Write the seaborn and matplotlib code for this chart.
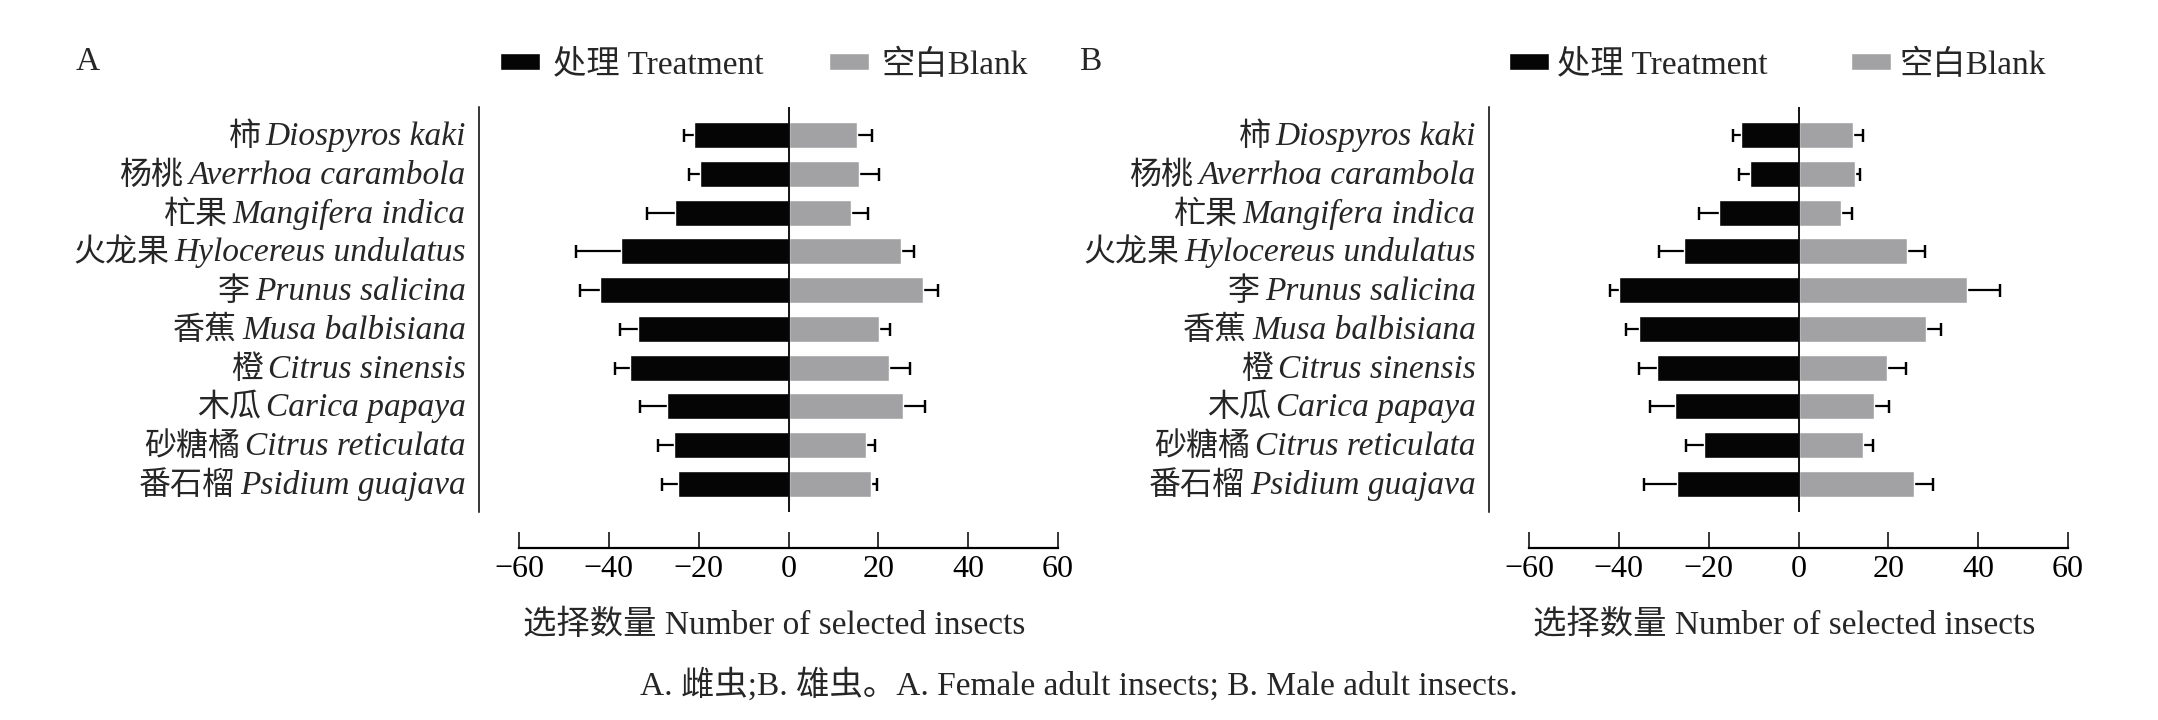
import matplotlib
matplotlib.use('Agg')
import matplotlib.pyplot as plt
import matplotlib.transforms as mtransforms
import numpy as np
import pandas as pd
import seaborn as sns

# species labels (Chinese + Latin)
cn_names = ['柿', '杨桃', '杧果', '火龙果', '李', '香蕉', '橙', '木瓜', '砂糖橘', '番石榴']
latin_names = ['Diospyros kaki', 'Averrhoa carambola', 'Mangifera indica',
               'Hylocereus undulatus', 'Prunus salicina', 'Musa balbisiana',
               'Citrus sinensis', 'Carica papaya', 'Citrus reticulata', 'Psidium guajava']

groups = ['处理 Treatment', '空白Blank']

# A: female adults
a_treat = [21.0, 19.6, 25.3, 37.3, 42.0, 33.6, 35.3, 27.0, 25.4, 24.5]
a_treat_err = [2.3, 2.6, 6.3, 10.1, 4.5, 4.0, 3.3, 6.1, 3.7, 3.7]
a_blank = [15.3, 15.8, 14.0, 25.0, 29.9, 20.2, 22.4, 25.4, 17.2, 18.4]
a_blank_err = [3.4, 4.3, 3.8, 2.9, 3.4, 2.5, 4.6, 4.9, 2.1, 1.2]

# B: male adults
b_treat = [12.7, 10.7, 17.6, 25.5, 40.0, 35.4, 31.6, 27.6, 21.1, 27.0]
b_treat_err = [1.9, 2.5, 4.6, 5.6, 1.9, 3.1, 3.9, 5.5, 4.0, 7.3]
b_blank = [12.1, 12.6, 9.5, 24.1, 37.6, 28.4, 19.6, 16.9, 14.4, 25.7]
b_blank_err = [2.3, 1.2, 2.3, 4.1, 7.2, 3.3, 4.3, 3.3, 2.1, 4.3]

xticks = [-60, -40, -20, 0, 20, 40, 60]

sns.set_theme(style='ticks')
plt.rcParams['font.family'] = ['Liberation Serif', 'Noto Sans CJK SC']
plt.rcParams['axes.unicode_minus'] = True

DPI = 100
FS = 24
fig = plt.figure(figsize=(21.58, 7.2), dpi=DPI)
ax_a = fig.add_axes([519 / 2158, 208 / 720, 539 / 2158, 405 / 720])
ax_b = fig.add_axes([1529 / 2158, 208 / 720, 539 / 2158, 405 / 720])


def px(v):
    # pixels -> points
    return v * 72 / DPI


def one_sided_err(ax, start, err, pos, sign):
    # line from bar end outward, cap only at the outer end
    start = np.array(start, dtype=float)
    err = np.array(err, dtype=float)
    zeros = np.zeros(len(pos))
    xerr = [err, zeros] if sign < 0 else [zeros, err]
    ax.errorbar(start, pos, xerr=xerr, fmt='none', ecolor='black',
                elinewidth=1.6, capsize=0, zorder=1)
    ax.errorbar(start + sign * err, pos, xerr=zeros, fmt='none', ecolor='black',
                elinewidth=0, capsize=px(6.5), capthick=1.6, zorder=1)


def draw_panel(ax, treat, treat_err, blank, blank_err, leg_x, leg_pad, leg_col):
    df = pd.DataFrame({
        'species': latin_names * 2,
        'group': [groups[0]] * 10 + [groups[1]] * 10,
        'value': [-v for v in treat] + list(blank),
    })
    sns.barplot(data=df, x='value', y='species', hue='group', order=latin_names,
                hue_order=groups, dodge=False, width=0.67, saturation=1,
                palette={groups[0]: '#050505', groups[1]: '#a2a2a5'},
                errorbar=None, ax=ax, zorder=2)
    pos = np.arange(len(latin_names))
    one_sided_err(ax, [-v for v in treat], treat_err, pos, -1)
    one_sided_err(ax, blank, blank_err, pos, 1)
    ax.axvline(0, color='black', lw=1.3, zorder=3)

    ax.set_xlim(-60, 60)
    ax.set_ylim(len(pos) - 1 + 0.72, -0.72)
    ax.set_xticks(xticks)
    ax.set_yticks(pos)
    ax.set_yticklabels([])
    ax.set_ylabel('')
    ax.set_xlabel('选择数量 Number of selected insects', fontsize=FS, va='center')
    ax.xaxis.set_label_coords(0.5 - 14 / 539, (95 / 720 - 208 / 720) / (405 / 720))

    sns.despine(ax=ax)
    ax.spines['left'].set_position(('outward', px(40)))
    ax.spines['bottom'].set_position(('outward', px(36)))
    ax.spines['bottom'].set_bounds(-60, 60)
    ax.spines['left'].set_linewidth(1.1)
    ax.spines['bottom'].set_linewidth(1.6)
    ax.spines['left'].set_color('black')
    ax.spines['bottom'].set_color('black')
    ax.tick_params(axis='x', direction='in', length=px(16), width=1.1, pad=px(7),
                   colors='black', labelsize=23)
    ax.tick_params(axis='y', left=False, labelleft=False)

    sns.move_legend(ax, 'center left', bbox_to_anchor=(leg_x / 2158, 1 - 65 / 720),
                    bbox_transform=fig.transFigure, ncol=2, frameon=False, title=None,
                    fontsize=FS, handlelength=40 / 33.3, handleheight=14 / 33.3,
                    handletextpad=leg_pad, columnspacing=leg_col,
                    borderpad=0, borderaxespad=0)

    # species labels: Latin italic next to the axis, Chinese before it
    renderer = fig.canvas.get_renderer()
    base = ax.get_yaxis_transform()
    for i, (cn, la) in enumerate(zip(cn_names, latin_names)):
        off = mtransforms.ScaledTranslation(-53 / DPI, -10 / DPI, fig.dpi_scale_trans)
        t = ax.text(0, i, la, transform=base + off, ha='right', va='baseline',
                    fontsize=FS, fontstyle='italic', family='Liberation Serif')
        w = t.get_window_extent(renderer).width
        off2 = mtransforms.ScaledTranslation(-(53 + w + 5) / DPI, -10 / DPI,
                                             fig.dpi_scale_trans)
        ax.text(0, i, cn, transform=base + off2, ha='right', va='baseline',
                fontsize=FS - 1, family=['Noto Sans CJK SC'])

    return ax


draw_panel(ax_a, a_treat, a_treat_err, a_blank, a_blank_err, 500, 0.39, 1.95)
draw_panel(ax_b, b_treat, b_treat_err, b_blank, b_blank_err, 1509, 0.24, 2.5)

fig.text(88 / 2158, 1 - 62 / 720, 'A', fontsize=FS, ha='center', va='center')
fig.text(1090 / 2158, 1 - 62 / 720, 'B', fontsize=FS, ha='center', va='center')
fig.text(0.5, 1 - 685 / 720, 'A. 雌虫;B. 雄虫。A. Female adult insects; B. Male adult insects.',
         fontsize=FS, ha='center', va='center')

fig.savefig('out.png', dpi=DPI, facecolor='white')
